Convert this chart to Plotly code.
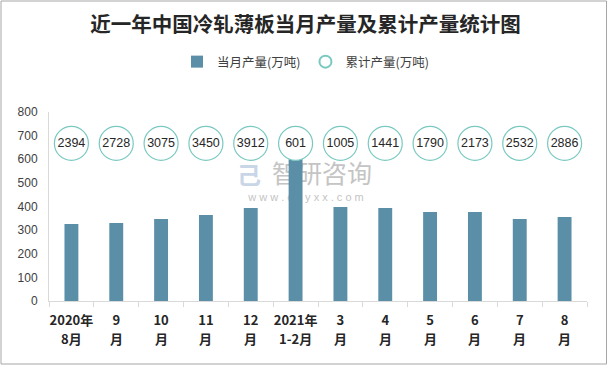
import plotly.graph_objects as go

categories = ["2020年<br>8月", "9<br>月", "10<br>月", "11<br>月", "12<br>月", "2021年<br>1-2月",
              "3<br>月", "4<br>月", "5<br>月", "6<br>月", "7<br>月", "8<br>月"]
monthly = [326, 330, 347, 364, 394, 601, 398, 394, 377, 377, 347, 356]
cumulative = [2394, 2728, 3075, 3450, 3912, 601, 1005, 1441, 1790, 2173, 2532, 2886]
y_ticks = [0, 100, 200, 300, 400, 500, 600, 700, 800]

LABEL_LEVEL = 667  # vertical position of the cumulative circles (axis units)

fig = go.Figure()
fig.add_trace(go.Bar(
    x=categories, y=monthly, name="当月产量(万吨)",
    marker=dict(color="#5B8FA7", line=dict(width=0)),
    width=0.31,
))
fig.add_trace(go.Scatter(
    x=categories, y=[LABEL_LEVEL] * len(cumulative), name="累计产量(万吨)",
    mode="markers+text",
    text=[str(v) for v in cumulative], textposition="middle center",
    textfont=dict(size=12.5, color="#262626", family="Liberation Sans, Arial"),
    marker=dict(symbol="circle", size=34, color="white",
                line=dict(color="#79C9C1", width=1.2)),
))

W, H = 611, 368
L, R, T, B = 49, 24, 112, 67
pw, ph = W - L - R, H - T - B

def px(x):
    return (x - L) / pw

def py(y):
    return (H - B - y) / ph

def wm(x0, x1, y0, y1, text, size, color, family):
    return dict(type="rect", xref="paper", yref="paper",
                x0=px(x0), x1=px(x1), y0=py(y1), y1=py(y0),
                line=dict(width=0), fillcolor="rgba(0,0,0,0)", layer="below",
                label=dict(text=text, textposition="middle center",
                           font=dict(size=size, color=color, family=family)))

shapes = [
    dict(type="rect", xref="paper", yref="paper",
         x0=px(1), x1=px(606.5), y0=py(1), y1=py(364),
         line=dict(color="#A6A6A6", width=1), fillcolor="rgba(0,0,0,0)", layer="below"),
    wm(264, 380, 164, 188, "智研咨询", 25, "#C4C4C4", "Noto Sans CJK SC"),
    wm(232, 380, 189, 203, "w w w . c h y x x . c o m", 11, "#C4C4C4", "Liberation Sans, Arial"),
    wm(234, 264, 164, 190, "<b>己</b>", 24, "#C9D6E8", "Noto Sans CJK SC"),
]

TICK_FONT = dict(size=13, color="#262626", family="Noto Sans CJK SC")
first_lines = [c.split("<br>")[0] for c in categories]
second_lines = [c.split("<br>")[1] for c in categories]

annotations = [
    dict(text="<b>" + s + "</b>", x=c, xref="x", y=py(338), yref="paper",
         showarrow=False, xanchor="center", yanchor="middle", font=TICK_FONT)
    for c, s in zip(categories, second_lines)
]

fig.update_layout(
    width=W, height=H,
    margin=dict(l=L, r=R, t=T, b=B, pad=0, autoexpand=False),
    paper_bgcolor="white", plot_bgcolor="rgba(0,0,0,0)",
    title=dict(text="<b>近一年中国冷轧薄板当月产量及累计产量统计图</b>",
               x=0.5, xref="container", xanchor="center", y=1 - 25 / H, yanchor="middle",
               font=dict(size=20.5, color="#262626", family="Noto Sans CJK SC")),
    legend=dict(orientation="h", x=px(W / 2), xref="paper", xanchor="center",
                y=py(62), yanchor="middle", itemwidth=30,
                font=dict(size=12.5, color="#404040", family="Noto Sans CJK SC"),
                itemsizing="constant", bgcolor="rgba(0,0,0,0)"),
    showlegend=True,
    bargap=0.69,
    xaxis=dict(type="category", showgrid=False, showline=True, linecolor="#D9D9D9", linewidth=1,
               ticks="outside", tickson="boundaries", ticklen=5, tickcolor="#D9D9D9",
               tickangle=0, automargin=False, ticklabelstandoff=7,
               tickvals=categories, ticktext=["<b>" + f + "</b>" for f in first_lines],
               tickfont=TICK_FONT,
               range=[-0.5, 11.5], fixedrange=True),
    yaxis=dict(range=[0, 800], tickvals=y_ticks, showgrid=False, zeroline=False,
               showline=True, linecolor="#D9D9D9", linewidth=1, ticks="", automargin=False,
               tickfont=dict(size=12, color="#404040", family="Liberation Sans, Arial"),
               ticklabelstandoff=8),
    shapes=shapes,
    annotations=annotations,
)

fig.write_html("out.html", config={"displayModeBar": False},
               post_script="document.body.style.margin='0';document.body.style.overflow='hidden';")
